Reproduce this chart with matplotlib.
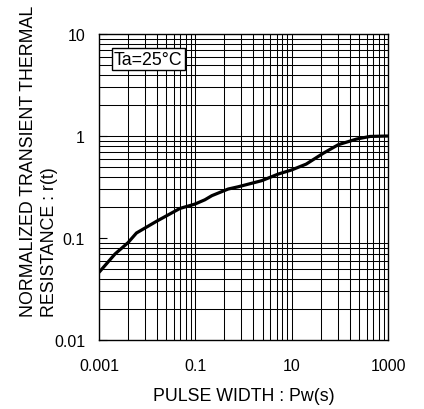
import numpy as np
import matplotlib
matplotlib.use("Agg")
import matplotlib.pyplot as plt
from matplotlib.ticker import FixedLocator, NullFormatter

plt.rcParams["font.family"] = ["Liberation Sans", "DejaVu Sans"]

# curve
pulse_width = [0.001, 0.00215, 0.004, 0.006, 0.0157, 0.048, 0.098, 0.158, 0.22,
               0.48, 0.78, 2.4, 5.3, 10, 20, 45, 93, 224, 423, 1000]
r_t = [0.046, 0.0697, 0.09, 0.112, 0.146, 0.195, 0.215, 0.237, 0.26,
       0.302, 0.318, 0.365, 0.424, 0.465, 0.53, 0.676, 0.822, 0.934, 0.99, 1.0]

x_ticks = [0.001, 0.1, 10, 1000]
x_labels = ["0.001", "0.1", "10", "1000"]
y_ticks = [0.01, 0.1, 1, 10]
y_labels = ["0.01", "0.1", "1", "10"]

# grid: x cycles span two decades, y cycles one decade
subs = np.arange(2, 10)
x_minor = [c * 100 ** np.log10(k) for c in x_ticks[:-1] for k in subs]
y_minor = [c * k for c in y_ticks[:-1] for k in subs]

fig = plt.figure(figsize=(4.24, 4.10), dpi=100)
ax = fig.add_axes([99 / 424, 1 - 341 / 410, 289 / 424, 306 / 410])

ax.set_xscale("log")
ax.set_yscale("log")
ax.set_xlim(0.001, 1000)
ax.set_ylim(0.01, 10)

ax.xaxis.set_major_locator(FixedLocator(x_ticks))
ax.xaxis.set_minor_locator(FixedLocator(x_minor))
ax.yaxis.set_major_locator(FixedLocator(y_ticks))
ax.yaxis.set_minor_locator(FixedLocator(y_minor))
ax.set_xticklabels(x_labels)
ax.set_yticklabels(y_labels)
ax.xaxis.set_minor_formatter(NullFormatter())
ax.yaxis.set_minor_formatter(NullFormatter())

ax.grid(True, which="minor", color="black", linewidth=0.75)
ax.grid(True, which="major", axis="x", color="black", linewidth=0.75)
ax.axhline(1, color="black", linewidth=0.75)

ax.tick_params(axis="x", which="both", length=0, pad=13, labelsize=11.5)
ax.tick_params(axis="y", which="major", direction="in", length=6, width=0.8,
               pad=10, labelsize=11.5)
ax.tick_params(axis="y", which="minor", length=0)
for s in ax.spines.values():
    s.set_linewidth(1.0)

ax.plot(pulse_width, r_t, color="black", linewidth=2.3, solid_capstyle="butt")

ax.text(0.17, 0.918, "Ta=25°C", transform=ax.transAxes, ha="center", va="center",
        fontsize=12.8,
        bbox=dict(boxstyle="square,pad=0.12", facecolor="white",
                  edgecolor="black", linewidth=1.0))

ax.set_xlabel("PULSE WIDTH : Pw(s)", fontsize=12.8, labelpad=10)
fig.text(39 / 424, 1 - 317 / 410,
         "NORMALIZED TRANSIENT THERMAL\nRESISTANCE : r(t)",
         rotation=90, ha="center", va="bottom", multialignment="left",
         fontsize=12.8, linespacing=1.32)

fig.savefig("out.png", dpi=100)
